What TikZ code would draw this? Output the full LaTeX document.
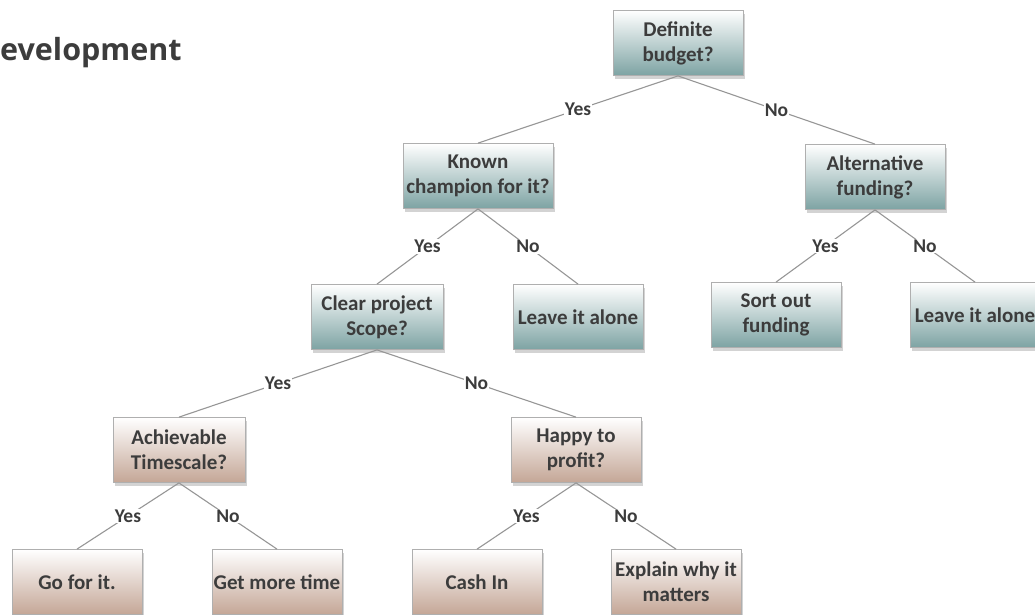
\documentclass[tikz,border=0pt]{standalone}
\usepackage{fontspec}
\setmainfont{Carlito}
\newfontfamily\titlefont{Open Sans}
\usetikzlibrary{shadows}

\definecolor{txtgray}{RGB}{60,60,60}
\definecolor{linegray}{RGB}{150,150,150}
\definecolor{boxedge}{RGB}{175,175,175}
\definecolor{tealbot}{RGB}{125,163,163}
\definecolor{tealmid}{RGB}{214,228,228}
\definecolor{brownbot}{RGB}{196,166,150}
\definecolor{brownmid}{RGB}{236,224,218}

\begin{document}
\begin{tikzpicture}[x=1pt, y=-1pt,
    box/.style = {rectangle, draw = boxedge, line width = 0.8pt,
        minimum width = 130pt, minimum height = 65pt, align = center, inner sep = 1pt,
        text = txtgray, font = \fontsize{21}{25}\selectfont\bfseries,
        drop shadow = {shadow xshift = 2pt, shadow yshift = -3pt, opacity = 0.35}},
    tealbox/.style = {box, top color = white, middle color = tealmid, bottom color = tealbot},
    brownbox/.style = {box, top color = white, middle color = brownmid, bottom color = brownbot},
    link/.style = {draw = linegray, line width = 1.1pt},
    answer/.style = {fill = white, inner sep = 1pt, text = txtgray,
        font = \fontsize{19.5}{21}\selectfont\bfseries}]

    \useasboundingbox (+0, +0) rectangle (+1035, +614);
    \clip (+0, +0) rectangle (+1035, +614);

    % Title (cut off at the left edge)
    \node[anchor = west, inner sep = 0pt, text = txtgray,
        font = \fontsize{30.5}{33}\selectfont\titlefont\bfseries] (title) at (+0, +53) {evelopment};

    % === Top level ===
    \node[tealbox] (budget) at (+678, +43) {Definite\\budget?};

    % === Second level ===
    \node[tealbox, minimum width = 150pt] (champion) at (+478, +176) {Known\\champion for it?};
    \node[tealbox, minimum width = 140pt] (altfund) at (+875, +177) {Alternative\\funding?};

    % === Third level ===
    \node[tealbox, minimum width = 132pt] (scope) at (+377, +317) {Clear project\\Scope?};
    \node[tealbox] (leavemid) at (+578, +317) {Leave it alone};
    \node[tealbox] (sortfund) at (+776, +315) {Sort out\\funding};
    \node[tealbox] (leaveright) at (+975, +315) {Leave it alone};

    % === Fourth level ===
    \node[brownbox, minimum width = 132pt] (timescale) at (+179, +450) {Achievable\\Timescale?};
    \node[brownbox] (profit) at (+576, +450) {Happy to\\profit?};

    % === Bottom level ===
    \node[brownbox] (goforit) at (+77, +582) {Go for it.};
    \node[brownbox] (moretime) at (+277, +582) {Get more time};
    \node[brownbox] (cashin) at (+477, +582) {Cash In};
    \node[brownbox] (explain) at (+676, +582) {Explain why it\\matters};

    % === Connectors with answers ===
    \path[link] (budget.south) -- node[answer] {Yes} (champion.north);
    \path[link] (budget.south) -- node[answer] {No} (altfund.north);

    \path[link] (champion.south) -- node[answer] {Yes} (scope.north);
    \path[link] (champion.south) -- node[answer] {No} (leavemid.north);

    \path[link] (altfund.south) -- node[answer] {Yes} (sortfund.north);
    \path[link] (altfund.south) -- node[answer] {No} (leaveright.north);

    \path[link] (scope.south) -- node[answer] {Yes} (timescale.north);
    \path[link] (scope.south) -- node[answer] {No} (profit.north);

    \path[link] (timescale.south) -- node[answer] {Yes} (goforit.north);
    \path[link] (timescale.south) -- node[answer] {No} (moretime.north);

    \path[link] (profit.south) -- node[answer] {Yes} (cashin.north);
    \path[link] (profit.south) -- node[answer] {No} (explain.north);
\end{tikzpicture}
\end{document}
